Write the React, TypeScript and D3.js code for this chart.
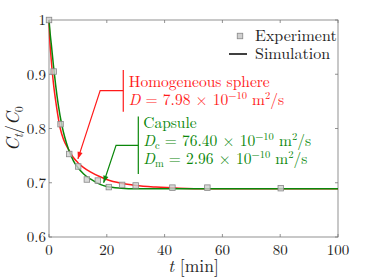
import React, { useEffect, useRef } from 'react';
import * as d3 from 'd3';

// experiment points (t [min], Ct/C0)
const expT = [0, 1.6, 4.0, 7.0, 10.1, 13.1, 16.9, 20.7, 25.3, 30.0, 42.7, 54.8, 80.2];
const expV = [1.0, 0.905, 0.808, 0.753, 0.730, 0.706, 0.704, 0.692, 0.696, 0.695, 0.691, 0.691, 0.690];

// simulation: homogeneous sphere
const sphT = [0, 0.25, 0.5, 0.9, 1.5, 2.5, 3.9, 5, 6.8, 8.5, 10, 12, 14.3, 17.7, 20, 25, 30, 37, 45, 55, 70, 100];
const sphV = [1.0, 0.965, 0.945, 0.918, 0.885, 0.844, 0.800, 0.780, 0.761, 0.746, 0.737, 0.728, 0.720, 0.711, 0.706, 0.699, 0.695, 0.692, 0.690, 0.689, 0.689, 0.689];

// simulation: capsule
const capT = [0, 0.4, 0.8, 1.5, 2.3, 3.2, 4.5, 5.5, 6.8, 8.5, 10, 12, 14.3, 17.7, 20, 25, 30, 40, 100];
const capV = [1.0, 0.975, 0.955, 0.918, 0.880, 0.844, 0.805, 0.783, 0.761, 0.740, 0.728, 0.716, 0.707, 0.697, 0.693, 0.690, 0.689, 0.689, 0.689];

const xTicks = [0, 20, 40, 60, 80, 100];
const yTicks = [0.6, 0.7, 0.8, 0.9, 1];

const RED = '#ff1a1a';
const GREEN = '#0a870a';
const FONT = "'Latin Modern Roman', 'CMU Serif', 'Liberation Serif', serif";

const App = () => {
    const svgRef = useRef(null);

    useEffect(() => {
        const svg = d3.select(svgRef.current);
        svg.selectAll('*').remove();

        const margin = { top: 20, right: 36, bottom: 43, left: 49 };
        const W = 374, H = 280;
        const width = W - margin.left - margin.right;
        const height = H - margin.top - margin.bottom;

        const g = svg.append('g').attr('transform', `translate(${margin.left},${margin.top})`);

        const x = d3.scaleLinear().domain([0, 100]).range([0, width]);
        const y = d3.scaleLinear().domain([0.6, 1]).range([height, 0]);

        const axisColor = '#777';

        // frame
        g.append('rect')
            .attr('width', width).attr('height', height)
            .attr('fill', 'white').attr('stroke', axisColor).attr('stroke-width', 0.8);

        // ticks (inside, on all four sides)
        const tl = 3;
        xTicks.forEach(t => {
            g.append('line').attr('x1', x(t)).attr('x2', x(t)).attr('y1', height).attr('y2', height - tl).attr('stroke', axisColor).attr('stroke-width', 0.8);
            g.append('line').attr('x1', x(t)).attr('x2', x(t)).attr('y1', 0).attr('y2', tl).attr('stroke', axisColor).attr('stroke-width', 0.8);
            g.append('text').attr('x', x(t)).attr('y', height + 18)
                .attr('text-anchor', 'middle').attr('font-family', FONT).attr('font-size', 15)
                .attr('fill', '#222').text(t);
        });
        yTicks.forEach(v => {
            g.append('line').attr('x1', 0).attr('x2', tl).attr('y1', y(v)).attr('y2', y(v)).attr('stroke', axisColor).attr('stroke-width', 0.8);
            g.append('line').attr('x1', width).attr('x2', width - tl).attr('y1', y(v)).attr('y2', y(v)).attr('stroke', axisColor).attr('stroke-width', 0.8);
            g.append('text').attr('x', -3).attr('y', y(v)).attr('dy', '0.35em')
                .attr('text-anchor', 'end').attr('font-family', FONT).attr('font-size', 15)
                .attr('fill', '#222').text(v === 1 ? '1' : d3.format('.1f')(v));
        });

        // axis labels
        const xl = g.append('text').attr('x', width / 2).attr('y', height + 35)
            .attr('text-anchor', 'middle').attr('font-family', FONT).attr('font-size', 17.5).attr('fill', '#222');
        xl.append('tspan').attr('font-style', 'italic').text('t');
        xl.append('tspan').text(' [min]');

        const yl = g.append('text')
            .attr('transform', `translate(${-30},${height / 2}) rotate(-90)`)
            .attr('text-anchor', 'middle').attr('font-family', FONT).attr('font-size', 18).attr('fill', '#222');
        yl.append('tspan').attr('font-style', 'italic').text('C');
        yl.append('tspan').attr('font-style', 'italic').attr('font-size', 12).attr('dy', 3.5).text('t');
        yl.append('tspan').attr('dy', -3.5).text('/');
        yl.append('tspan').attr('font-style', 'italic').text('C');
        yl.append('tspan').attr('font-size', 12).attr('dy', 3.5).text('0');

        // simulation curves
        const line = d3.line().x(d => x(d[0])).y(d => y(d[1])).curve(d3.curveMonotoneX);
        g.append('path').datum(sphT.map((t, i) => [t, sphV[i]]))
            .attr('fill', 'none').attr('stroke', RED).attr('stroke-width', 1.5).attr('d', line);
        g.append('path').datum(capT.map((t, i) => [t, capV[i]]))
            .attr('fill', 'none').attr('stroke', GREEN).attr('stroke-width', 1.5).attr('d', line);

        // experiment markers
        const s = 5.5;
        g.selectAll('rect.exp').data(expT.map((t, i) => [t, expV[i]])).enter()
            .append('rect').attr('class', 'exp')
            .attr('x', d => x(d[0]) - s / 2).attr('y', d => y(d[1]) - s / 2)
            .attr('width', s).attr('height', s)
            .attr('fill', '#d0d0d0').attr('fill-opacity', 0.8).attr('stroke', '#888').attr('stroke-width', 0.8);

        // annotations
        const annot = (color, bar, elbow, tip, textT, lines) => {
            g.append('line').attr('x1', x(bar[0])).attr('x2', x(bar[0]))
                .attr('y1', y(bar[1])).attr('y2', y(bar[2])).attr('stroke', color).attr('stroke-width', 1.2);
            g.append('polyline')
                .attr('points', [[x(bar[0]), y(elbow[1])], [x(elbow[0]), y(elbow[1])], [x(tip[0]), y(tip[1])]].map(p => p.join(',')).join(' '))
                .attr('fill', 'none').attr('stroke', color).attr('stroke-width', 1.2);
            // arrow head
            const ex = x(elbow[0]), ey = y(elbow[1]), tx = x(tip[0]), ty = y(tip[1]);
            const ang = Math.atan2(ty - ey, tx - ex);
            const L = 7, Wd = 2.6;
            const bx = tx - L * Math.cos(ang), by = ty - L * Math.sin(ang);
            const px = -Math.sin(ang) * Wd, py = Math.cos(ang) * Wd;
            g.append('path').attr('d', `M${tx},${ty}L${bx + px},${by + py}L${bx - px},${by - py}Z`).attr('fill', color);
            lines.forEach(ln => {
                const tEl = g.append('text').attr('x', x(textT)).attr('y', y(ln.v))
                    .attr('font-family', FONT).attr('font-size', 15.5).attr('fill', color);
                ln.parts.forEach(p => {
                    const ts = tEl.append('tspan').text(p.s);
                    if (p.i) ts.attr('font-style', 'italic');
                    if (p.sup) ts.attr('font-size', 10.5).attr('dy', -6);
                    if (p.sub) ts.attr('font-size', 10.5).attr('dy', 3);
                    if (p.back) ts.attr('dy', p.back);
                });
            });
        };

        annot(RED, [25.7, 0.908, 0.831], [17.7, 0.870], [10.0, 0.744], 27.6, [
            { v: 0.877, parts: [{ s: 'Homogeneous sphere' }] },
            { v: 0.844, parts: [{ s: 'D', i: true }, { s: ' = 7.98 × 10' }, { s: '−10', sup: true }, { s: ' m', back: 6 }, { s: '2', sup: true }, { s: '/s', back: 6 }] },
        ]);
        annot(GREEN, [30.9, 0.822, 0.716], [23.2, 0.769], [18.9, 0.700], 32.6, [
            { v: 0.801, parts: [{ s: 'Capsule' }] },
            { v: 0.767, parts: [{ s: 'D', i: true }, { s: 'c', sub: true }, { s: ' = 76.40 × 10', back: -3 }, { s: '−10', sup: true }, { s: ' m', back: 6 }, { s: '2', sup: true }, { s: '/s', back: 6 }] },
            { v: 0.734, parts: [{ s: 'D', i: true }, { s: 'm', sub: true }, { s: ' = 2.96 × 10', back: -3 }, { s: '−10', sup: true }, { s: ' m', back: 6 }, { s: '2', sup: true }, { s: '/s', back: 6 }] },
        ]);

        // legend
        const lg = g.append('g').attr('transform', `translate(${width - 100},${16})`);
        lg.append('rect').attr('x', -s / 2 + 2).attr('y', -s / 2).attr('width', s).attr('height', s)
            .attr('fill', '#d0d0d0').attr('stroke', '#888').attr('stroke-width', 0.8);
        lg.append('text').attr('x', 17).attr('y', 0).attr('dy', '0.33em')
            .attr('font-family', FONT).attr('font-size', 16).attr('fill', '#222').text('Experiment');
        lg.append('line').attr('x1', -9).attr('x2', 9).attr('y1', 18).attr('y2', 18).attr('stroke', '#000').attr('stroke-width', 1.5);
        lg.append('text').attr('x', 17).attr('y', 18).attr('dy', '0.33em')
            .attr('font-family', FONT).attr('font-size', 16).attr('fill', '#222').text('Simulation');
    }, []);

    return <svg ref={svgRef} width={374} height={280} style={{ position: 'absolute', left: 0, top: 0 }}></svg>;
};

export default App;
